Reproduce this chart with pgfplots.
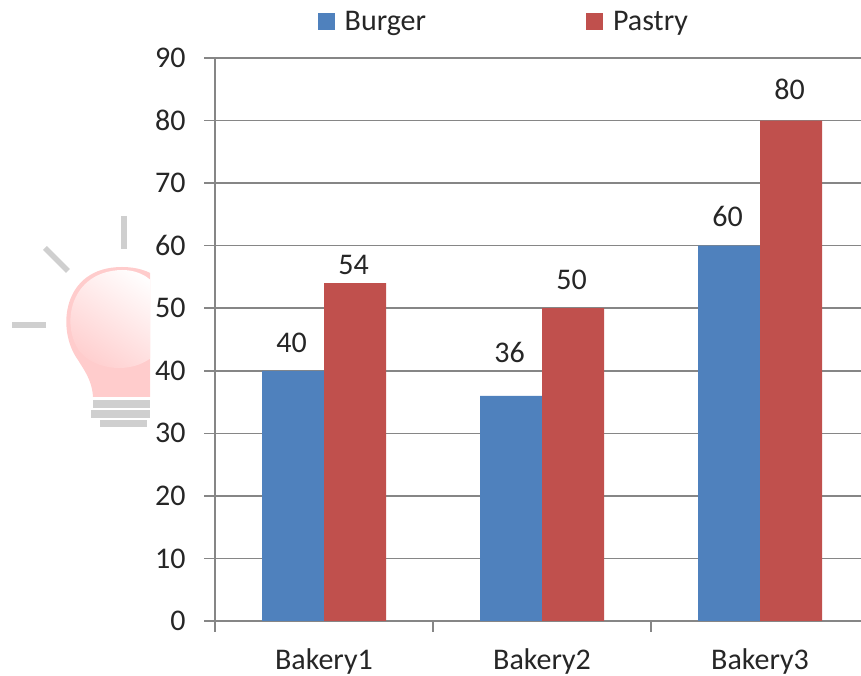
\documentclass[border=0pt]{standalone}
\usepackage{pgfplots}
\usepackage{pgfplotstable}
\usepackage{fontspec}
\pgfplotsset{compat=1.18}
\setmainfont{Carlito}
\definecolor{burger}{HTML}{4F81BD}
\definecolor{pastry}{HTML}{C0504D}
\definecolor{axisgray}{HTML}{868686}
\definecolor{rays}{HTML}{CFCFCF}
\definecolor{bulb}{HTML}{FFCCCC}
\definecolor{labeltext}{HTML}{262626}

\pgfplotstableread{
x val dy
0 40 15
1 36 30
2 60 15
}\burgerdata
\pgfplotstableread{
x val dy
0 54 5
1 50 15
2 80 17
}\pastrydata

\begin{document}
\begin{tikzpicture}
\useasboundingbox (0,0) rectangle (861pt,676pt);
% light bulb behind the axis, coordinates in image pixels
\begin{scope}[x=1pt,y=-1pt,yshift=676pt]
\begin{scope}
\clip (0,200) rectangle (150,440);
\fill[bulb] (93,397) .. controls (92,380) and (84,370) .. (78,360)
  .. controls (56,330) and (62,267) .. (122,267)
  .. controls (182,267) and (188,330) .. (166,360)
  .. controls (160,370) and (153,380) .. (152,397) -- cycle;
\shade[top color=white,bottom color=bulb,shading angle=-35]
  (80,352) .. controls (60,325) and (70,271) .. (122,270)
  .. controls (160,270) and (175,310) .. (165,340)
  .. controls (150,375) and (100,375) .. (80,352) -- cycle;
\fill[rays] (93,400) rectangle (150,408);
\fill[rays] (91,410) rectangle (150,418);
\fill[rays] (100,420) rectangle (147,427);
\end{scope}
\draw[rays,line width=5.5pt] (124,216) -- (124,249);
\draw[rays,line width=5.5pt] (45,248) -- (68,271);
\draw[rays,line width=5.5pt] (12,325) -- (46,325);
\end{scope}
\begin{axis}[
at={(215pt,55pt)},
anchor=south west,
scale only axis,
width=646pt,
height=563pt,
ybar,
bar width=62pt,
bar shift=0pt,
xmin=-0.5,
xmax=2.463,
ymin=0,
ymax=90,
ytick={0,10,...,90},
xtick={-0.5,0.5,1.5},
xticklabels={},
extra x ticks={0,1,2},
extra x tick labels={Bakery1,Bakery2,Bakery3},
extra x tick style={major tick length=0pt,tick style={draw=none}},
axis x line*=bottom,
axis y line*=left,
axis line style={axisgray,line width=1.5pt,-},
ymajorgrids,
grid style={axisgray,line width=1.5pt},
tick align=outside,
major tick length=11pt,
tick style={axisgray,line width=1.5pt},
/pgf/number format/assume math mode=true,
tick label style={font=\fontsize{30}{30}\selectfont,text=labeltext},
y tick label style={xshift=-15pt},
x tick label style={yshift=-24pt},
legend columns=2,
legend style={
  at={(0.154,1.065)},anchor=west,draw=none,fill=none,
  font=\fontsize{30}{30}\selectfont,text=labeltext,
  /tikz/every odd column/.append style={column sep=8pt},
  /tikz/every even column/.append style={column sep=158pt},
},
legend image code/.code={\fill[#1] (0pt,-8.5pt) rectangle (17pt,8.5pt);},
nodes near coords,
nodes near coords style={font=\fontsize{30}{30}\selectfont,text=labeltext,anchor=south},
visualization depends on={\thisrow{dy} \as \dylabel},
every node near coord/.append style={yshift=\dylabel pt,xshift=-1.5pt},
]
\addplot[draw=none,fill=burger,bar shift=-31pt] table[x=x,y=val] {\burgerdata};
\addplot[draw=none,fill=pastry,bar shift=31pt] table[x=x,y=val] {\pastrydata};
\legend{Burger,Pastry}
\end{axis}
\end{tikzpicture}
\end{document}
